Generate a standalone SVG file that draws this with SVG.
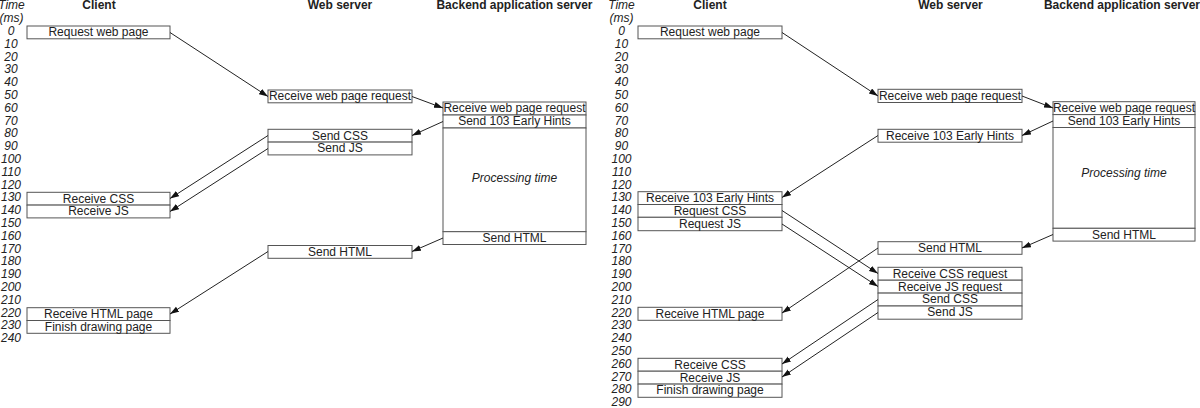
<svg xmlns="http://www.w3.org/2000/svg" width="1200" height="408" viewBox="0 0 1200 408">
<defs>
<style>
.bx{fill:#fff;stroke:#555;stroke-width:1}
.t{font-family:"Liberation Sans",Arial,sans-serif;font-size:12px;fill:#222;text-anchor:middle}
.h{font-family:"Liberation Sans",Arial,sans-serif;font-size:12px;font-weight:bold;fill:#222;text-anchor:middle}
.n{font-family:"Liberation Sans",Arial,sans-serif;font-size:12px;font-style:italic;fill:#222;text-anchor:middle}
.c line{stroke:#222;stroke-width:1;marker-end:url(#ah)}
</style>
<marker id="ah" markerUnits="userSpaceOnUse" markerWidth="10" markerHeight="7" refX="9" refY="3" orient="auto">
<path d="M0,0 L9,3 L0,6 z" fill="#111"/>
</marker>
</defs>
<rect width="1200" height="408" fill="#fff"/>

<!-- LEFT DIAGRAM -->
<g id="left-axis">
<text class="n" x="11.5" y="9">Time</text>
<text class="n" x="11.5" y="22">(ms)</text>
<text class="n" x="11" y="35">0</text>
<text class="n" x="11" y="47.8">10</text>
<text class="n" x="11" y="60.6">20</text>
<text class="n" x="11" y="73.4">30</text>
<text class="n" x="11" y="86.2">40</text>
<text class="n" x="11" y="99">50</text>
<text class="n" x="11" y="111.8">60</text>
<text class="n" x="11" y="124.6">70</text>
<text class="n" x="11" y="137.4">80</text>
<text class="n" x="11" y="150.2">90</text>
<text class="n" x="11" y="163">100</text>
<text class="n" x="11" y="175.8">110</text>
<text class="n" x="11" y="188.6">120</text>
<text class="n" x="11" y="201.4">130</text>
<text class="n" x="11" y="214.2">140</text>
<text class="n" x="11" y="227">150</text>
<text class="n" x="11" y="239.8">160</text>
<text class="n" x="11" y="252.6">170</text>
<text class="n" x="11" y="265.4">180</text>
<text class="n" x="11" y="278.2">190</text>
<text class="n" x="11" y="291">200</text>
<text class="n" x="11" y="303.8">210</text>
<text class="n" x="11" y="316.6">220</text>
<text class="n" x="11" y="329.4">230</text>
<text class="n" x="11" y="342.2">240</text>
</g>
<g id="left-headers">
<text class="h" x="99" y="9">Client</text>
<text class="h" x="340" y="9">Web server</text>
<text class="h" x="514.5" y="9">Backend application server</text>
</g>

<g id="L-client-request"><rect class="bx" x="27" y="26" width="143" height="12.8"/><text class="t" x="98.5" y="36.2">Request web page</text></g>
<g id="L-client-recv-css"><rect class="bx" x="27" y="192.3" width="143" height="12.8"/><text class="t" x="98.5" y="202.5">Receive CSS</text></g>
<g id="L-client-recv-js"><rect class="bx" x="27" y="205.1" width="143" height="12.8"/><text class="t" x="98.5" y="215.3">Receive JS</text></g>
<g id="L-client-recv-html"><rect class="bx" x="27" y="307.7" width="143" height="12.8"/><text class="t" x="98.5" y="317.9">Receive HTML page</text></g>
<g id="L-client-finish"><rect class="bx" x="27" y="320.5" width="143" height="12.8"/><text class="t" x="98.5" y="330.7">Finish drawing page</text></g>

<g id="L-web-recv-req"><rect class="bx" x="268" y="90" width="144" height="12.8"/><text class="t" x="340" y="100.2">Receive web page request</text></g>
<g id="L-web-send-css"><rect class="bx" x="268" y="129.3" width="144" height="12.8"/><text class="t" x="340" y="139.5">Send CSS</text></g>
<g id="L-web-send-js"><rect class="bx" x="268" y="142.1" width="144" height="12.8"/><text class="t" x="340" y="152.3">Send JS</text></g>
<g id="L-web-send-html"><rect class="bx" x="268" y="245.5" width="144" height="12.8"/><text class="t" x="340" y="255.7">Send HTML</text></g>

<g id="L-be-recv-req"><rect class="bx" x="443" y="102" width="143" height="13"/><text class="t" x="514.5" y="112.4">Receive web page request</text></g>
<g id="L-be-send-103"><rect class="bx" x="443" y="115" width="143" height="13"/><text class="t" x="514.5" y="125.4">Send 103 Early Hints</text></g>
<g id="L-be-processing"><rect class="bx" x="443" y="128" width="143" height="103.7"/><text class="n" x="514.5" y="182">Processing time</text></g>
<g id="L-be-send-html"><rect class="bx" x="443" y="231.7" width="143" height="12.8"/><text class="t" x="514.5" y="241.9">Send HTML</text></g>

<!-- RIGHT DIAGRAM -->
<g id="right-axis">
<text class="n" x="621.5" y="9">Time</text>
<text class="n" x="621.5" y="22">(ms)</text>
<text class="n" x="621.5" y="35">0</text>
<text class="n" x="621.5" y="47.8">10</text>
<text class="n" x="621.5" y="60.6">20</text>
<text class="n" x="621.5" y="73.4">30</text>
<text class="n" x="621.5" y="86.2">40</text>
<text class="n" x="621.5" y="99">50</text>
<text class="n" x="621.5" y="111.8">60</text>
<text class="n" x="621.5" y="124.6">70</text>
<text class="n" x="621.5" y="137.4">80</text>
<text class="n" x="621.5" y="150.2">90</text>
<text class="n" x="621.5" y="163">100</text>
<text class="n" x="621.5" y="175.8">110</text>
<text class="n" x="621.5" y="188.6">120</text>
<text class="n" x="621.5" y="201.4">130</text>
<text class="n" x="621.5" y="214.2">140</text>
<text class="n" x="621.5" y="227">150</text>
<text class="n" x="621.5" y="239.8">160</text>
<text class="n" x="621.5" y="252.6">170</text>
<text class="n" x="621.5" y="265.4">180</text>
<text class="n" x="621.5" y="278.2">190</text>
<text class="n" x="621.5" y="291">200</text>
<text class="n" x="621.5" y="303.8">210</text>
<text class="n" x="621.5" y="316.6">220</text>
<text class="n" x="621.5" y="329.4">230</text>
<text class="n" x="621.5" y="342.2">240</text>
<text class="n" x="621.5" y="355">250</text>
<text class="n" x="621.5" y="367.8">260</text>
<text class="n" x="621.5" y="380.6">270</text>
<text class="n" x="621.5" y="393.4">280</text>
<text class="n" x="621.5" y="406.2">290</text>
</g>
<g id="right-headers">
<text class="h" x="710" y="9">Client</text>
<text class="h" x="950.5" y="9">Web server</text>
<text class="h" x="1122" y="9">Backend application server</text>
</g>

<g id="R-client-request"><rect class="bx" x="638" y="26" width="144" height="12.8"/><text class="t" x="710" y="36.2">Request web page</text></g>
<g id="R-client-recv-103"><rect class="bx" x="638" y="191.7" width="144" height="12.8"/><text class="t" x="710" y="201.9">Receive 103 Early Hints</text></g>
<g id="R-client-req-css"><rect class="bx" x="638" y="204.5" width="144" height="12.8"/><text class="t" x="710" y="214.7">Request CSS</text></g>
<g id="R-client-req-js"><rect class="bx" x="638" y="217.3" width="144" height="13.4"/><text class="t" x="710" y="227.6">Request JS</text></g>
<g id="R-client-recv-html"><rect class="bx" x="638" y="307.3" width="144" height="13"/><text class="t" x="710" y="317.6">Receive HTML page</text></g>
<g id="R-client-recv-css"><rect class="bx" x="638" y="358.3" width="144" height="12.9"/><text class="t" x="710" y="368.6">Receive CSS</text></g>
<g id="R-client-recv-js"><rect class="bx" x="638" y="371.2" width="144" height="12.9"/><text class="t" x="710" y="381.5">Receive JS</text></g>
<g id="R-client-finish"><rect class="bx" x="638" y="384.1" width="144" height="13.2"/><text class="t" x="710" y="394.4">Finish drawing page</text></g>

<g id="R-web-recv-req"><rect class="bx" x="878" y="89.3" width="144" height="13.2"/><text class="t" x="950" y="99.6">Receive web page request</text></g>
<g id="R-web-recv-103"><rect class="bx" x="878" y="129.3" width="144" height="12.9"/><text class="t" x="950" y="139.6">Receive 103 Early Hints</text></g>
<g id="R-web-send-html"><rect class="bx" x="878" y="241.7" width="144" height="12.6"/><text class="t" x="950" y="251.9">Send HTML</text></g>
<g id="R-web-recv-css"><rect class="bx" x="878" y="267.3" width="144" height="12.9"/><text class="t" x="950" y="277.6">Receive CSS request</text></g>
<g id="R-web-recv-js"><rect class="bx" x="878" y="280.2" width="144" height="12.9"/><text class="t" x="950" y="290.5">Receive JS request</text></g>
<g id="R-web-send-css"><rect class="bx" x="878" y="293.1" width="144" height="12.9"/><text class="t" x="950" y="303.4">Send CSS</text></g>
<g id="R-web-send-js"><rect class="bx" x="878" y="306" width="144" height="13.2"/><text class="t" x="950" y="316.3">Send JS</text></g>

<g id="R-be-recv-req"><rect class="bx" x="1053" y="101.7" width="142" height="12.9"/><text class="t" x="1124" y="112">Receive web page request</text></g>
<g id="R-be-send-103"><rect class="bx" x="1053" y="114.6" width="142" height="12.9"/><text class="t" x="1124" y="124.9">Send 103 Early Hints</text></g>
<g id="R-be-processing"><rect class="bx" x="1053" y="127.5" width="142" height="100.8"/><text class="n" x="1124" y="176.5">Processing time</text></g>
<g id="R-be-send-html"><rect class="bx" x="1053" y="228.3" width="142" height="12.8"/><text class="t" x="1124" y="238.5">Send HTML</text></g>

<g id="connectors" class="c">
<line x1="170" y1="32.5" x2="268" y2="96.5"/>
<line x1="412" y1="96.5" x2="443" y2="108"/>
<line x1="443" y1="121.5" x2="412" y2="135.5"/>
<line x1="268" y1="135.5" x2="170" y2="198.5"/>
<line x1="268" y1="148.5" x2="170" y2="211.5"/>
<line x1="443" y1="238" x2="412" y2="251.5"/>
<line x1="268" y1="251.5" x2="170" y2="314"/>

<line x1="782" y1="32.5" x2="878" y2="96"/>
<line x1="1022" y1="96" x2="1053" y2="108"/>
<line x1="1053" y1="121" x2="1022" y2="135.5"/>
<line x1="878" y1="135.5" x2="782" y2="197.5"/>
<line x1="782" y1="210.5" x2="878" y2="273.5"/>
<line x1="782" y1="224" x2="878" y2="286.5"/>
<line x1="878" y1="248" x2="782" y2="313"/>
<line x1="1053" y1="234.5" x2="1022" y2="248"/>
<line x1="878" y1="299.5" x2="782" y2="364"/>
<line x1="878" y1="312.5" x2="782" y2="377"/>
</g>
</svg>
